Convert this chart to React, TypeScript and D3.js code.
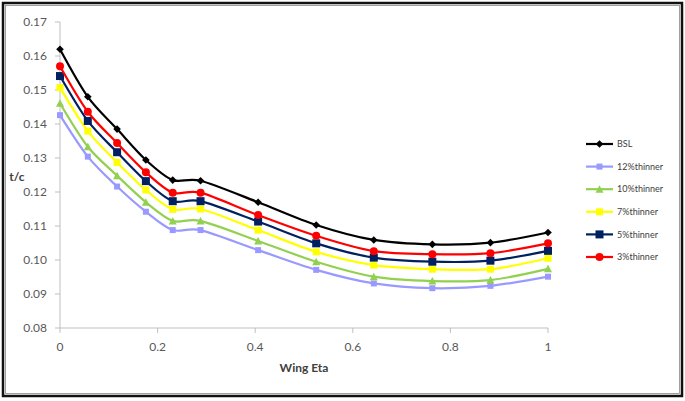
import React from "react";
import * as d3 from "d3";

const etas = [0, 0.057, 0.117, 0.176, 0.231, 0.288, 0.406, 0.525, 0.643, 0.763, 0.882, 1.0];
const bsl = [0.162, 0.148, 0.1385, 0.1294, 0.1235, 0.1233, 0.117, 0.1103, 0.1059, 0.1046, 0.1051, 0.1081];
const thin12 = [0.1426, 0.1304, 0.1216, 0.1142, 0.1088, 0.1088, 0.1029, 0.0971, 0.0931, 0.0917, 0.0924, 0.0951];
const thin10 = [0.1461, 0.1333, 0.1248, 0.117, 0.1115, 0.1115, 0.1056, 0.0995, 0.0951, 0.0938, 0.0941, 0.0974];
const thin7 = [0.1507, 0.1379, 0.1287, 0.1206, 0.1149, 0.115, 0.1088, 0.1024, 0.0985, 0.0973, 0.0973, 0.1005];
const thin5 = [0.1541, 0.1409, 0.1317, 0.1232, 0.1173, 0.1173, 0.1113, 0.1049, 0.1007, 0.0995, 0.0998, 0.1027];
const thin3 = [0.157, 0.1436, 0.1344, 0.1258, 0.1198, 0.1198, 0.1132, 0.1071, 0.1026, 0.1017, 0.102, 0.1049];

const seriesNames = ["BSL", "12%thinner", "10%thinner", "7%thinner", "5%thinner", "3%thinner"];
const seriesValues = [bsl, thin12, thin10, thin7, thin5, thin3];
const seriesColors = ["#000000", "#9999FF", "#92D050", "#FFFF00", "#002060", "#FF0000"];
const seriesMarkers = ["diamond", "square", "triangle", "square", "square", "circle"];
const markerSizes = [3, 3, 3.5, 3.5, 4, 4];

const yTicks = [0.08, 0.09, 0.1, 0.11, 0.12, 0.13, 0.14, 0.15, 0.16, 0.17];
const xTicks = [0, 0.2, 0.4, 0.6, 0.8, 1];

const W = 685, H = 401;
const x = d3.scaleLinear().domain([0, 1]).range([60, 548]);
const y = d3.scaleLinear().domain([0.08, 0.17]).range([328, 22]);
const FONT = "Lato, 'Open Sans', sans-serif";

function Marker({ type, cx, cy, r, color }: { type: string; cx: number; cy: number; r: number; color: string }) {
  if (type === "circle") return <circle cx={cx} cy={cy} r={r} fill={color} />;
  if (type === "square") return <rect x={cx - r} y={cy - r} width={2 * r} height={2 * r} fill={color} />;
  if (type === "diamond")
    return <path d={`M${cx},${cy - r - 0.8}L${cx + r + 0.8},${cy}L${cx},${cy + r + 0.8}L${cx - r - 0.8},${cy}Z`} fill={color} />;
  return <path d={`M${cx},${cy - r - 0.5}L${cx + r + 0.5},${cy + r}L${cx - r - 0.5},${cy + r}Z`} fill={color} />;
}

export default function App() {
  const line = d3
    .line<number>()
    .x((_, i) => x(etas[i]))
    .y((v) => y(v))
    .curve(d3.curveCardinal.tension(0.1));

  const order = [0, 1, 2, 3, 4, 5];
  return (
    <svg width={W} height={H} style={{ position: "absolute", left: 0, top: 0, display: "block" }}>
      <rect x={0} y={0} width={W} height={H} fill="#fff" />
      <rect x={3} y={3} width={679} height={393} fill="none" stroke="#111" strokeWidth={2.5} />
      <rect x={5.5} y={5.5} width={674} height={388} fill="none" stroke="#888" strokeWidth={0.8} />

      {/* axes */}
      <line x1={60} x2={60} y1={y(0.17)} y2={y(0.08)} stroke="#bfbfbf" strokeWidth={1} />
      <line x1={60} x2={548} y1={y(0.08)} y2={y(0.08)} stroke="#bfbfbf" strokeWidth={1} />
      {yTicks.map((t) => (
        <g key={"y" + t}>
          <line x1={55} x2={60} y1={y(t)} y2={y(t)} stroke="#bfbfbf" />
          <text x={47} y={y(t)} dy="0.35em" textAnchor="end" fontFamily={FONT} fontSize={12} fill="#595959">
            {t.toFixed(2)}
          </text>
        </g>
      ))}
      {xTicks.map((t) => (
        <g key={"x" + t}>
          <line x1={x(t)} x2={x(t)} y1={328} y2={333} stroke="#bfbfbf" />
          <text x={x(t)} y={347} dy="0.35em" textAnchor="middle" fontFamily={FONT} fontSize={12} fill="#595959">
            {String(t)}
          </text>
        </g>
      ))}
      <text x={17} y={177} dy="0.35em" textAnchor="middle" fontFamily={FONT} fontSize={12} fontWeight="bold" fill="#404040">
        t/c
      </text>
      <text x={304} y={368} dy="0.35em" textAnchor="middle" fontFamily={FONT} fontSize={12} fontWeight="bold" fill="#404040">
        Wing Eta
      </text>

      {/* series */}
      {order.map((si) => (
        <g key={seriesNames[si]}>
          <path d={line(seriesValues[si]) || ""} fill="none" stroke={seriesColors[si]} strokeWidth={2.2} />
          {seriesValues[si].map((v, i) => (
            <Marker key={i} type={seriesMarkers[si]} cx={x(etas[i])} cy={y(v)} r={markerSizes[si]} color={seriesColors[si]} />
          ))}
        </g>
      ))}

      {/* legend */}
      {seriesNames.map((n, i) => {
        const ly = 144 + i * 22.6;
        return (
          <g key={"lg" + n}>
            <line x1={586} x2={613} y1={ly} y2={ly} stroke={seriesColors[i]} strokeWidth={2.2} />
            <Marker type={seriesMarkers[i]} cx={599.5} cy={ly} r={markerSizes[i]} color={seriesColors[i]} />
            <text x={617} y={ly} dy="0.35em" fontFamily={FONT} fontSize={9} fill="#404040">
              {n}
            </text>
          </g>
        );
      })}
    </svg>
  );
}
